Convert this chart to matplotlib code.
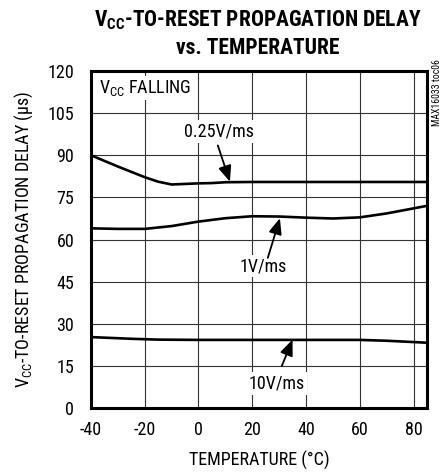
import matplotlib
matplotlib.use("Agg")
import matplotlib.pyplot as plt

FONT = ['Roboto Condensed', 'Liberation Sans', 'DejaVu Sans']
plt.rcParams['font.family'] = FONT
plt.rcParams['mathtext.fontset'] = 'custom'
plt.rcParams['mathtext.rm'] = 'Roboto Condensed'
plt.rcParams['mathtext.bf'] = 'Roboto Condensed:bold'
plt.rcParams['mathtext.it'] = 'Roboto Condensed'

# Data
temp_025 = [-40, -30, -20, -15, -10, -5, 0, 5, 10, 20, 40, 60, 85]
delay_025 = [90, 86, 82.2, 80.6, 79.6, 79.8, 80.0, 80.1, 80.4, 80.5, 80.5, 80.5, 80.5]

temp_1 = [-40, -30, -20, -10, 0, 10, 20, 30, 40, 50, 60, 70, 85]
delay_1 = [64.0, 63.8, 63.8, 64.8, 66.4, 67.6, 68.3, 68.2, 67.8, 67.5, 67.9, 69.3, 72.0]

temp_10 = [-40, -25, -15, 0, 20, 40, 60, 70, 85]
delay_10 = [25.3, 24.7, 24.4, 24.3, 24.3, 24.3, 24.3, 24.0, 23.3]

xticks = [-40, -20, 0, 20, 40, 60, 80]
yticks = [0, 15, 30, 45, 60, 75, 90, 105, 120]

fig = plt.figure(figsize=(4.48, 4.73), dpi=100)
ax = fig.add_axes([0.203, 0.137, 0.750, 0.713])

for t, d in [(temp_025, delay_025), (temp_1, delay_1), (temp_10, delay_10)]:
    ax.plot(t, d, color='black', lw=1.9, solid_capstyle='butt', zorder=3)

ax.set_xlim(-40, 85)
ax.set_ylim(0, 120)
ax.set_xticks(xticks)
ax.set_yticks(yticks)
ax.set_xticklabels([str(v) for v in xticks], fontsize=13)
ax.set_yticklabels([str(v) for v in yticks], fontsize=13)
ax.tick_params(axis='y', length=0, pad=12)
ax.tick_params(axis='x', length=0, pad=9)
ax.grid(True, color='#333333', lw=0.8)
ax.set_axisbelow(True)
for s in ax.spines.values():
    s.set_linewidth(2.2)

ax.set_xlabel('TEMPERATURE (°C)', fontsize=13, labelpad=9)
ax.set_ylabel(r'V$_{\rm CC}$-TO-RESET PROPAGATION DELAY (μs)', fontsize=13, labelpad=9)

fig.text(0.575, 0.929, r'V$_{\bf CC}$-TO-RESET PROPAGATION DELAY' + '\nvs. TEMPERATURE',
         ha='center', va='center', fontsize=15.5, fontweight='bold', linespacing=1.3)

fig.text(0.975, 0.805, 'MAX16033 toc06', rotation=90, ha='center', va='center', fontsize=7)

box = dict(facecolor='white', edgecolor='none', pad=1.5)
ax.text(-37, 114, r'V$_{\rm CC}$ FALLING', fontsize=13, ha='left', va='center', bbox=box, zorder=4)

aprops = dict(arrowstyle='-|>,head_length=0.6,head_width=0.25', color='black', lw=1.3,
              mutation_scale=16, shrinkA=0, shrinkB=0)
ax.text(7.5, 98.5, '0.25V/ms', fontsize=13, ha='center', va='center', bbox=box, zorder=4)
ax.annotate('', xy=(11.7, 80.6), xytext=(7.2, 93.5), arrowprops=aprops, zorder=4)
ax.text(24, 50.5, '1V/ms', fontsize=13, ha='center', va='center', bbox=box, zorder=4)
ax.annotate('', xy=(30.3, 67.6), xytext=(25.8, 53.5), arrowprops=aprops, zorder=4)
ax.text(29.2, 8.8, '10V/ms', fontsize=13, ha='center', va='center', bbox=box, zorder=4)
ax.annotate('', xy=(35, 24.4), xytext=(31, 15), arrowprops=aprops, zorder=4)

fig.savefig('out.png', dpi=100)
